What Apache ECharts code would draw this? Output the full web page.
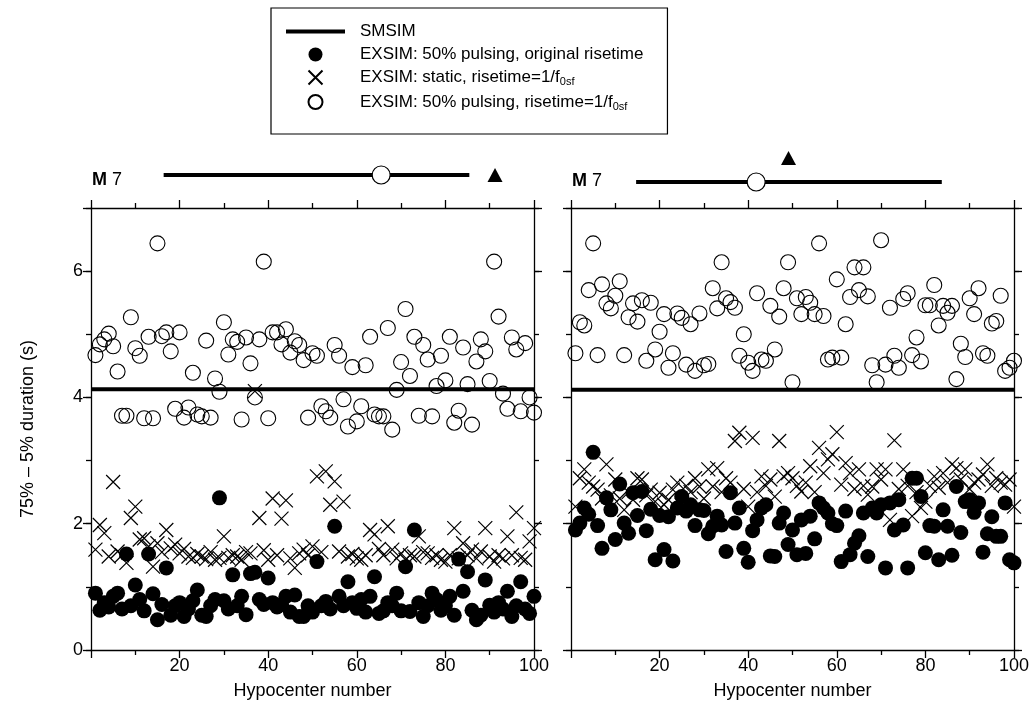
<!DOCTYPE html>
<html><head><meta charset="utf-8">
<script src="https://cdn.jsdelivr.net/npm/echarts@6/dist/echarts.min.js"></script>
<style>html,body{margin:0;padding:0;background:#fff}#c{width:1032px;height:712px}</style>
</head><body><div id="c"></div>
<script>
// ---------- DATA ----------
const legendNames = ['SMSIM', 'EXSIM: 50% pulsing, original risetime', 'EXSIM: static, risetime=1/f0sf', 'EXSIM: 50% pulsing, risetime=1/f0sf'];
const smsimLevel = [4.13, 4.12]; // left, right
// left panel
const leftPulsingOrig = [0.90,0.63,0.75,0.68,0.85,0.90,0.65,1.52,0.70,1.03,0.80,0.62,1.52,0.89,0.48,0.72,1.30,0.55,0.70,0.75,
0.53,0.65,0.78,0.95,0.55,0.53,0.70,0.80,2.41,0.78,0.65,1.19,0.70,0.85,0.56,1.21,1.23,0.80,0.72,1.14,
0.75,0.68,0.72,0.85,0.60,0.87,0.53,0.53,0.70,0.60,1.40,0.70,0.77,0.65,1.96,0.85,0.70,1.08,0.75,0.66,
0.80,0.60,0.85,1.16,0.58,0.62,0.75,0.70,0.90,0.62,1.32,0.61,1.90,0.75,0.53,0.70,0.90,0.80,0.63,0.70,
0.85,0.55,1.44,0.93,1.24,0.63,0.48,0.55,1.11,0.71,0.60,0.75,0.65,0.93,0.53,0.70,1.08,0.65,0.58,0.85];
const leftStatic = [1.59,1.98,1.85,1.48,2.66,1.56,1.50,1.38,2.09,2.27,1.75,1.77,1.64,1.32,1.69,1.55,1.90,1.61,1.67,1.53,
1.60,1.48,1.46,1.52,1.48,1.44,1.55,1.43,1.46,1.80,1.46,1.50,1.48,1.43,1.55,1.53,4.10,2.09,1.58,1.43,
2.40,1.50,2.08,2.37,1.45,1.30,1.53,1.59,1.50,1.64,2.75,1.55,2.83,2.30,2.67,1.56,2.35,1.48,1.52,1.45,
1.43,1.50,1.90,1.83,1.60,1.50,1.96,1.59,1.45,1.53,1.43,1.50,1.48,1.80,1.55,1.53,1.46,1.50,1.43,1.40,
1.50,1.93,1.45,1.69,1.50,1.59,1.45,1.56,1.93,1.48,1.40,1.50,1.45,1.80,1.50,2.18,1.46,1.43,1.72,1.93];
const leftPulsingShort = [4.67,4.84,4.92,5.01,4.81,4.41,3.71,3.71,5.27,4.78,4.66,3.67,4.96,3.67,6.44,4.97,5.03,4.73,3.82,5.03,
3.68,3.84,4.39,3.73,3.70,4.90,3.68,4.30,4.09,5.19,4.68,4.92,4.88,3.65,4.95,4.54,4.00,4.92,6.15,3.67,
5.03,5.03,4.84,5.08,4.71,4.89,4.83,4.59,3.68,4.70,4.66,3.86,3.78,3.68,4.83,4.66,3.97,3.54,4.48,3.62,
3.86,4.51,4.96,3.73,3.70,3.70,5.10,3.49,4.12,4.56,5.40,4.34,4.96,3.71,4.83,4.60,3.70,4.18,4.66,4.27,
4.96,3.60,3.79,4.79,4.21,3.57,4.57,4.92,4.73,4.26,6.15,5.28,4.06,3.82,4.95,4.76,3.78,4.86,4.00,3.76];
// right panel
const rightPulsingOrig = [1.90,2.01,2.25,2.15,3.13,1.97,1.61,2.41,2.22,1.75,2.63,2.01,1.85,2.49,2.13,2.51,1.89,2.23,1.43,2.13,
1.59,2.11,1.41,2.25,2.43,2.20,2.30,1.97,2.22,2.21,1.84,1.96,2.12,1.98,1.56,2.49,2.01,2.25,1.61,1.39,
1.89,2.06,2.25,2.30,1.49,1.48,2.01,2.17,1.67,1.90,1.51,2.06,1.53,2.12,1.76,2.33,2.25,2.17,2.00,1.97,
1.40,2.20,1.51,1.69,1.81,2.17,1.48,2.25,2.17,2.30,1.30,2.33,1.90,2.38,1.98,1.30,2.72,2.72,2.43,1.54,
1.97,1.96,1.43,2.22,1.96,1.50,2.59,1.86,2.35,2.38,2.18,2.33,1.55,1.84,2.11,1.80,1.80,2.33,1.43,1.38];
const rightStatic = [2.27,2.72,2.86,2.65,2.59,2.54,2.40,2.94,2.45,2.70,2.40,2.22,2.50,2.38,2.72,2.70,2.45,2.54,2.35,2.49,
2.30,2.38,2.54,2.65,2.30,2.60,2.50,2.72,2.59,2.40,2.86,2.59,2.88,2.50,2.72,2.65,3.31,3.44,2.55,2.27,
3.36,2.50,2.75,2.60,2.70,2.43,3.31,2.75,2.80,2.72,2.60,2.51,2.65,2.91,2.50,3.20,2.80,3.02,3.10,3.45,
2.62,2.96,2.80,2.55,2.86,2.60,2.46,2.59,2.86,2.70,2.86,2.06,3.32,2.55,2.86,2.60,2.12,2.50,2.25,2.35,
2.60,2.75,2.57,2.80,2.65,2.94,2.88,2.70,2.86,2.55,2.65,2.70,2.78,2.94,2.60,2.72,2.65,2.62,2.70,2.27];
const rightPulsingShort = [4.70,5.19,5.14,5.70,6.44,4.67,5.79,5.49,5.41,5.61,5.84,4.67,5.27,5.49,5.20,5.54,4.58,5.50,4.76,5.04,
5.32,4.47,4.70,5.33,5.26,4.52,5.16,4.42,5.33,4.51,4.53,5.73,5.41,6.14,5.57,5.51,5.42,4.66,5.00,4.55,
4.42,5.65,4.60,4.58,5.45,4.76,5.28,5.73,6.14,4.24,5.57,5.32,5.59,5.50,5.32,6.44,5.29,4.60,4.63,5.87,
4.63,5.16,5.59,6.06,5.70,6.06,5.60,4.51,4.24,6.49,4.52,5.42,4.66,4.47,5.56,5.65,4.67,4.95,4.57,5.46,
5.46,5.78,5.14,5.45,5.34,5.45,4.29,4.85,4.64,5.57,5.32,5.73,4.70,4.66,5.17,5.21,5.61,4.42,4.47,4.58];
// top annotation strip (hypocenter units): bar range, circle, triangle; row level inside strip (0..1)
const leftRange = [16.4, 85.4], leftCircle = 65.5, leftTriangle = 91.2;
const rightRange = [14.7, 83.7], rightCircle = 41.8, rightTriangle = 49.1;
const stripLevels = {left: 0.5, leftTri: 0.5, right: 0.36, rightTri: 0.84};
const xTicks = {min: 0, max: 100, interval: 20};
const yTicks = {min: 0, max: 7, interval: 2};

// ---------- CHART ----------
const FONT = '"Liberation Sans", Arial, Helvetica, sans-serif';
const FS = 18;
const hyp = leftPulsingOrig.map((_, i) => i + 1);
const pairs = arr => arr.map((v, i) => [hyp[i], v]);
const lineCol = '#000';
const AX = {lineStyle: {color: lineCol, width: 1.3}};
const grids = [
  {left: 91, top: 208, width: 443, height: 442},
  {left: 571, top: 208, width: 443, height: 442},
  {left: 91, top: 150, width: 443, height: 50},
  {left: 571, top: 150, width: 443, height: 50}
];
function xAx(grid, pos, labels) {
  return {type: 'value', gridIndex: grid, position: pos, min: xTicks.min, max: xTicks.max, interval: xTicks.interval,
    axisLine: {show: true, onZero: false, ...AX}, axisTick: {show: true, length: 8, ...AX},
    minorTick: {show: true, splitNumber: 2, length: 5, ...AX}, splitLine: {show: false},
    axisLabel: {show: labels, fontSize: FS, fontFamily: FONT, color: '#000', margin: 7, formatter: v => v === 0 ? '' : String(v)},
    name: labels ? 'Hypocenter number' : '', nameLocation: 'middle', nameGap: 32,
    nameTextStyle: {fontSize: FS, fontFamily: FONT, color: '#000'}};
}
function yAx(grid, pos, major, labels, name) {
  return {type: 'value', gridIndex: grid, position: pos, min: yTicks.min, max: yTicks.max, interval: major ? yTicks.interval : 1,
    axisLine: {show: major, onZero: false, ...AX}, axisTick: {show: true, length: major ? 8 : 5, ...AX},
    splitLine: {show: false},
    axisLabel: {show: labels, fontSize: FS, fontFamily: FONT, color: '#000', margin: 8, formatter: v => (v % 2 === 0 && v < 7) ? String(v) : ''},
    name: name || '', nameLocation: 'middle', nameGap: 54, nameRotate: 90,
    nameTextStyle: {fontSize: FS, fontFamily: FONT, color: '#000'}};
}
const xAxis = [xAx(0, 'bottom', true), xAx(0, 'top', false), xAx(1, 'bottom', true), xAx(1, 'top', false),
  {type: 'value', gridIndex: 2, min: xTicks.min, max: xTicks.max, show: false},
  {type: 'value', gridIndex: 3, min: xTicks.min, max: xTicks.max, show: false}];
const yAxis = [yAx(0, 'left', true, true, '75% \u2013 5% duration (s)'), yAx(0, 'left', false, false),
  yAx(0, 'right', true, false), yAx(0, 'right', false, false),
  yAx(1, 'left', true, false), yAx(1, 'left', false, false),
  yAx(1, 'right', true, false), yAx(1, 'right', false, false),
  {type: 'value', gridIndex: 2, min: 0, max: 1, show: false},
  {type: 'value', gridIndex: 3, min: 0, max: 1, show: false}];
const crossPath = 'path://M0,0L10,10M10,0L0,10';
function panelSeries(xi, yi, lvl, filled, cross, open) {
  return [
    {name: legendNames[0], type: 'line', xAxisIndex: xi, yAxisIndex: yi, data: [[xTicks.min, lvl], [xTicks.max, lvl]],
      symbol: 'none', itemStyle: {color: '#000'}, lineStyle: {color: '#000', width: 4}, z: 3, silent: true},
    {name: legendNames[1], type: 'scatter', xAxisIndex: xi, yAxisIndex: yi, data: pairs(filled), symbol: 'circle', symbolSize: 15,
      itemStyle: {color: '#000', opacity: 1}, z: 2},
    {name: legendNames[2], type: 'scatter', xAxisIndex: xi, yAxisIndex: yi, data: pairs(cross), symbol: crossPath, symbolSize: 14,
      itemStyle: {color: 'rgba(0,0,0,0)', borderColor: '#000', borderWidth: 1.2, opacity: 1}, z: 2},
    {name: legendNames[3], type: 'scatter', xAxisIndex: xi, yAxisIndex: yi, data: pairs(open), symbol: 'circle', symbolSize: 15,
      itemStyle: {color: 'rgba(255,255,255,0)', borderColor: '#000', borderWidth: 1.1, opacity: 1}, z: 2}
  ];
}
function stripSeries(xi, yi, range, lvl, circ, tri, triLvl) {
  return [
    {name: 'range', type: 'line', xAxisIndex: xi, yAxisIndex: yi, data: [[range[0], lvl], [range[1], lvl]], symbol: 'none',
      lineStyle: {color: '#000', width: 4}, silent: true},
    {name: 'circ', type: 'scatter', xAxisIndex: xi, yAxisIndex: yi, data: [[circ, lvl]], symbol: 'circle', symbolSize: 18,
      itemStyle: {color: '#fff', borderColor: '#000', borderWidth: 1.2, opacity: 1}, z: 3},
    {name: 'tri', type: 'scatter', xAxisIndex: xi, yAxisIndex: yi, data: [[tri, triLvl]], symbol: 'triangle', symbolSize: [15, 14],
      itemStyle: {color: '#000', opacity: 1}}
  ];
}
const series = [
  ...panelSeries(0, 0, smsimLevel[0], leftPulsingOrig, leftStatic, leftPulsingShort),
  ...panelSeries(2, 4, smsimLevel[1], rightPulsingOrig, rightStatic, rightPulsingShort),
  ...stripSeries(4, 8, leftRange, stripLevels.left, leftCircle, leftTriangle, stripLevels.leftTri),
  ...stripSeries(5, 9, rightRange, stripLevels.right, rightCircle, rightTriangle, stripLevels.rightTri)
];
const chart = echarts.init(document.getElementById('c'), null, {renderer: 'canvas'});
chart.setOption({
  animation: false,
  backgroundColor: '#fff',
  grid: grids,
  xAxis, yAxis, series,
  legend: {
    data: [{name: legendNames[0], icon: 'path://M0,0L60,0L60,4L0,4Z', itemStyle: {color: '#000'}},
      legendNames[1], legendNames[2], legendNames[3]],
    orient: 'vertical', left: 271, top: 8,
    padding: [15, 24, 22, 15], borderColor: '#000', borderWidth: 1.2,
    itemWidth: 59, itemHeight: 14, itemGap: 6, selectedMode: false,
    textStyle: {fontSize: 17, fontFamily: FONT, color: '#000', padding: [0, 0, 0, 10],
      rich: {sub: {fontSize: 11, fontFamily: FONT, color: '#000', padding: [9, 0, 0, 0]}}},
    formatter: n => n.replace('f0sf', 'f{sub|0sf}')
  },
  graphic: [
    {type: 'text', left: 92, top: 171, style: {text: '{b|M} 7', fontSize: FS, fontFamily: FONT, fill: '#000',
      rich: {b: {fontWeight: 'bold', fontSize: FS, fontFamily: FONT}}}},
    {type: 'text', left: 572, top: 172, style: {text: '{b|M} 7', fontSize: FS, fontFamily: FONT, fill: '#000',
      rich: {b: {fontWeight: 'bold', fontSize: FS, fontFamily: FONT}}}}
  ]
});
</script></body></html>
